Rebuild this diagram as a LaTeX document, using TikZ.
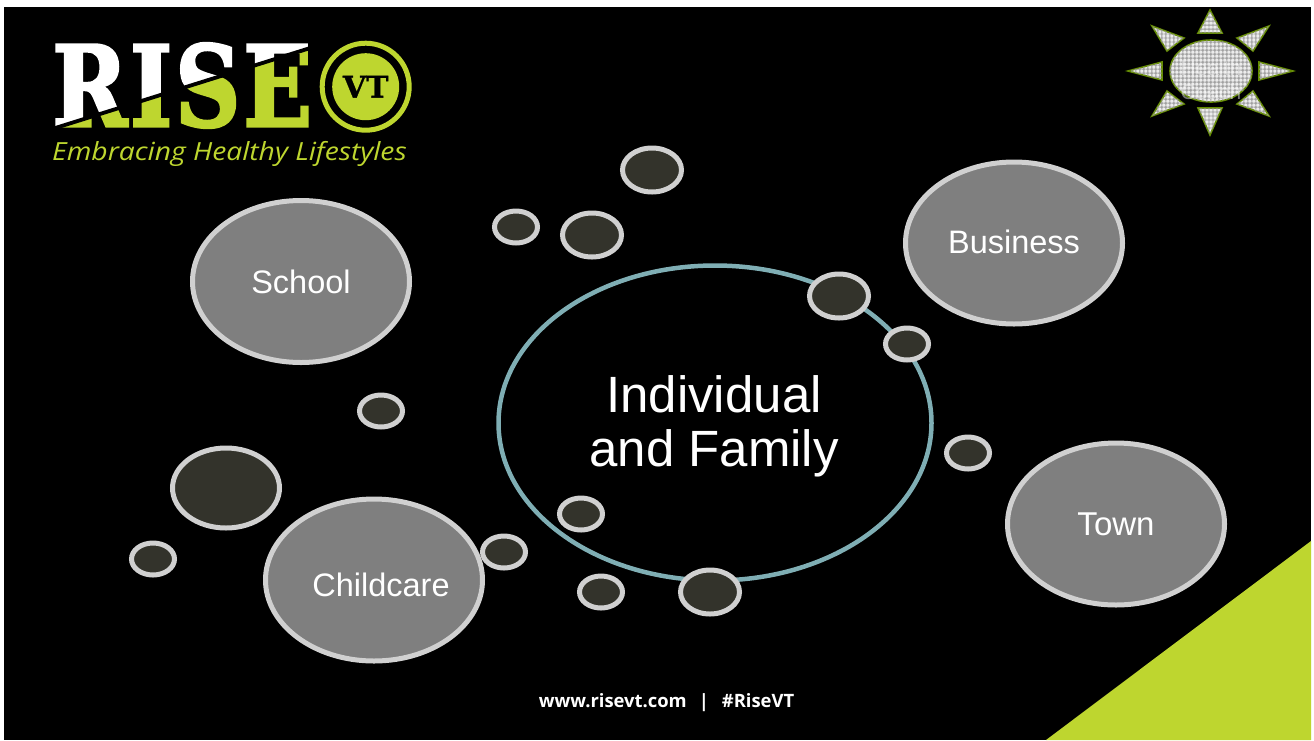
\documentclass[tikz,border=0pt]{standalone}
\usepackage{fontspec}
\usetikzlibrary{patterns,shapes.geometric}
\setmainfont{Liberation Sans}
\newfontfamily\logofont[BoldFeatures={FakeBold=2.5}]{DejaVu Serif}
\newfontfamily\vtfont[BoldFeatures={FakeBold=1}]{DejaVu Serif}
\newfontfamily\tagfont{Open Sans}
\definecolor{lime}{HTML}{BED62F}
\definecolor{ringgray}{HTML}{D0D0D0}
\definecolor{bubblegray}{HTML}{7F7F7F}
\definecolor{darkbub}{HTML}{33332B}
\definecolor{teal}{HTML}{7FAEB4}
\definecolor{sunline}{HTML}{648C00}
\definecolor{sunfill}{HTML}{ECECEC}
\pgfdeclarepatternformonly{sunweave}{\pgfqpoint{0pt}{0pt}}{\pgfqpoint{4.3pt}{4.3pt}}{\pgfqpoint{4.3pt}{4.3pt}}{
  \pgfpathrectangle{\pgfqpoint{1.7pt}{0pt}}{\pgfqpoint{0.9pt}{4.3pt}}
  \pgfpathrectangle{\pgfqpoint{0pt}{1.7pt}}{\pgfqpoint{4.3pt}{0.9pt}}
  \pgfusepath{fill}
}
\tikzset{
  x=1pt,y=-1pt,
  bigbub/.style={ellipse,draw=ringgray,line width=5pt,fill=bubblegray,minimum width=217pt,minimum height=162pt,inner sep=0pt,text=white,font=\fontsize{32.5}{36}\selectfont},
  smallbub/.style={ellipse,draw=ringgray,line width=5pt,fill=darkbub,minimum width=43pt,minimum height=32pt,inner sep=0pt},
  medbub/.style={ellipse,draw=ringgray,line width=5pt,fill=darkbub,minimum width=59pt,minimum height=44pt,inner sep=0pt},
  sunpart/.style={draw=sunline,line width=1.6pt,fill=sunfill,postaction={pattern=sunweave,pattern color=black!40}},
  label/.style={inner sep=0pt,text=white},
}
\begin{document}
\begin{tikzpicture}
\useasboundingbox (0,0) rectangle (1314,740);
\fill[white] (0,0) rectangle (1314,740);
\fill[black] (4,7) rectangle (1311,740);
\fill[lime] (1046,740) -- (1311,541) -- (1311,740) -- cycle;
% main circle
\node[ellipse,draw=teal,line width=4.5pt,minimum width=433pt,minimum height=315pt,inner sep=0pt] (main) at (715,423) {};
\node[label,font=\fontsize{51}{54}\selectfont,align=center] (maintext) at (714,426) {Individual\\and Family};
% large bubbles
\node[bigbub] (school) at (301,281.5) {School};
\node[bigbub] (business) at (1014,243) {};
\node[label,font=\fontsize{32.5}{36}\selectfont] (businesstext) at (1014,242) {Business};
\node[bigbub,font=\fontsize{33}{36}\selectfont] (town) at (1116,524) {Town};
\node[bigbub] (childcare) at (374,580) {};
\node[label,font=\fontsize{32.5}{36}\selectfont] (childtext) at (381,585) {Childcare};
% small bubbles
\node[medbub] (m1) at (652,170) {};
\node[smallbub] (s1) at (516,227) {};
\node[medbub] (m2) at (592,235) {};
\node[medbub] (m3) at (839,296) {};
\node[smallbub] (s2) at (907,344) {};
\node[smallbub] (s3) at (968,453) {};
\node[smallbub] (s4) at (381,411) {};
\node[ellipse,draw=ringgray,line width=5pt,fill=darkbub,minimum width=107pt,minimum height=80pt,inner sep=0pt] (l1) at (226,488) {};
\node[smallbub] (s5) at (153,559) {};
\node[smallbub] (s6) at (504,552) {};
\node[smallbub] (s7) at (581,514) {};
\node[smallbub] (s8) at (601,592) {};
\node[medbub] (m4) at (710,592) {};
% footer
\node[label,font=\tagfont\bfseries\fontsize{18.4}{20}\selectfont] (foot) at (666.5,703) {www.risevt.com\hspace{12pt}|\hspace{13pt}\#RiseVT};
% sun
\draw[sunpart] (1211,71) ellipse (41 and 31);
\draw[sunpart] (1210,10) -- (1198,33) -- (1222,33) -- cycle;
\draw[sunpart] (1293,71) -- (1259,62) -- (1259,80) -- cycle;
\draw[sunpart] (1128,71) -- (1162,62) -- (1162,80) -- cycle;
\draw[sunpart] (1210,135) -- (1198,108) -- (1222,108) -- cycle;
\draw[sunpart] (1152,26) -- (1184,38) -- (1167,51) -- cycle;
\draw[sunpart] (1269,26) -- (1237,38) -- (1253,51) -- cycle;
\draw[sunpart] (1152,116) -- (1184,104) -- (1167,91) -- cycle;
\draw[sunpart] (1269,116) -- (1237,104) -- (1253,91) -- cycle;
\node[inner sep=0pt,align=center,text=white,opacity=0.45,font=\fontsize{21}{24}\selectfont] (suntext) at (1211,80) {Health\\Coach};
% logo
\node[anchor=west,inner sep=0pt,text=white] (rise) at (52,85.5) {\resizebox{260pt}{83pt}{\logofont\bfseries R\kern0.03em I\kern0.03em S\kern0.03em E}};
\fill[lime,blend mode=multiply] (40,131.8) -- (330,40.8) -- (330,140) -- (40,140) -- cycle;
\fill[black] (40,130.8) -- (330,39.8) -- (330,43.8) -- (40,134.8) -- cycle;
\node[circle,draw=lime,line width=5pt,minimum size=87pt,inner sep=0pt] (ring) at (365.7,86.7) {};
\node[circle,fill=lime,minimum size=67pt,inner sep=0pt,text=black,font=\vtfont\bfseries\fontsize{30}{30}\selectfont] (vt) at (365.7,86.7) {VT};
\node[anchor=base west,inner sep=0pt,text=lime] (tag) at (52,160) {\scalebox{1.13}[1]{\tagfont\itshape\fontsize{25}{28}\selectfont Embracing Healthy Lifestyles}};
\end{tikzpicture}
\end{document}
